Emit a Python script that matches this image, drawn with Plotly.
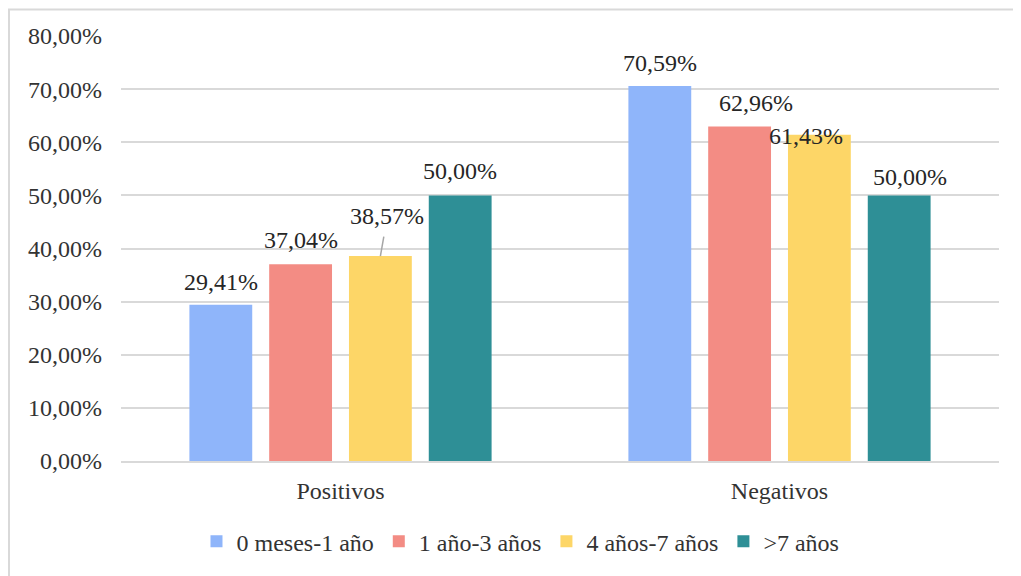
import plotly.graph_objects as go

categories = ["Positivos", "Negativos"]
series_names = ["0 meses-1 año", "1 año-3 años", "4 años-7 años", ">7 años"]
values_0_1 = [0.2941, 0.7059]
values_1_3 = [0.3704, 0.6296]
values_4_7 = [0.3857, 0.6143]
values_gt7 = [0.5000, 0.5000]
y_ticks = [0, 0.1, 0.2, 0.3, 0.4, 0.5, 0.6, 0.7, 0.8]

series_values = [values_0_1, values_1_3, values_4_7, values_gt7]
colors = ["#8FB5FA", "#F38C84", "#FDD667", "#2E8F96"]

# label pixel offsets (dx, dy above bar top) per series/category
label_offsets = {
    (0, 0): (0, 23), (1, 0): (0, 24), (3, 0): (0, 24),
    (0, 1): (0, 23), (1, 1): (16, 24), (2, 1): (-13, -1), (3, 1): (11, 18),
}
arrow_labels = {(2, 0): (7, -40)}

FONT = "Liberation Serif"
FS = 24
bargap = 0.273

fig = go.Figure()
for name, vals, col in zip(series_names, series_values, colors):
    fig.add_trace(go.Bar(x=categories, y=vals, name=name,
                         marker=dict(color=col, line=dict(width=0))))

slot = (1 - bargap) / len(series_names)
annotations = []
for si, vals in enumerate(series_values):
    for ci, v in enumerate(vals):
        xpos = ci + (si - (len(series_names) - 1) / 2) * slot
        txt = f"{v*100:.2f}%".replace(".", ",")
        if (si, ci) in arrow_labels:
            ax, ay = arrow_labels[(si, ci)]
            annotations.append(dict(x=xpos, y=v, xref="x", yref="y", text=txt,
                                    showarrow=True, arrowhead=0, arrowwidth=1.5,
                                    arrowcolor="#A6A6A6", ax=ax, ay=ay,
                                    startstandoff=6,
                                    font=dict(family=FONT, size=FS, color="#262626")))
        else:
            dx, dy = label_offsets[(si, ci)]
            annotations.append(dict(x=xpos, y=v, xref="x", yref="y", text=txt,
                                    showarrow=False, xshift=dx, yshift=dy,
                                    yanchor="middle", xanchor="center",
                                    font=dict(family=FONT, size=FS, color="#262626")))

# page body has an 8px margin; the figure is sized to fill the rest
fig.update_layout(
    width=1013, height=568,
    margin=dict(l=113, r=22, t=28, b=105),
    paper_bgcolor="white", plot_bgcolor="white",
    separators=",.",
    barmode="group", bargap=bargap, bargroupgap=0.2125,
    font=dict(family=FONT, size=FS, color="#333333"),
    showlegend=True,
    legend=dict(orientation="h", x=0.455, xanchor="center", y=-0.19, yanchor="middle",
                font=dict(family=FONT, size=FS, color="#333333"),
                itemwidth=30, tracegroupgap=0),
    annotations=annotations,
    shapes=[dict(type="rect", xref="paper", yref="paper",
                 x0=(1 - 113) / 878, x1=1.1, y0=-0.4, y1=1 + (28 - 1) / 435,
                 line=dict(color="#D9D9D9", width=2), fillcolor="rgba(0,0,0,0)",
                 layer="below")],
)
fig.update_yaxes(range=[0, 0.8], tickvals=y_ticks, tickformat=".2%",
                 showgrid=True, gridcolor="#D9D9D9", gridwidth=2,
                 zeroline=False, showline=False, ticks="",
                 ticklabelstandoff=18,
                 tickfont=dict(family=FONT, size=FS, color="#333333"))
fig.update_xaxes(showgrid=False, showline=True, linecolor="#D9D9D9", linewidth=2,
                 ticks="", ticklabelstandoff=7,
                 tickfont=dict(family=FONT, size=FS, color="#333333"))

fig.write_html("out.html")
